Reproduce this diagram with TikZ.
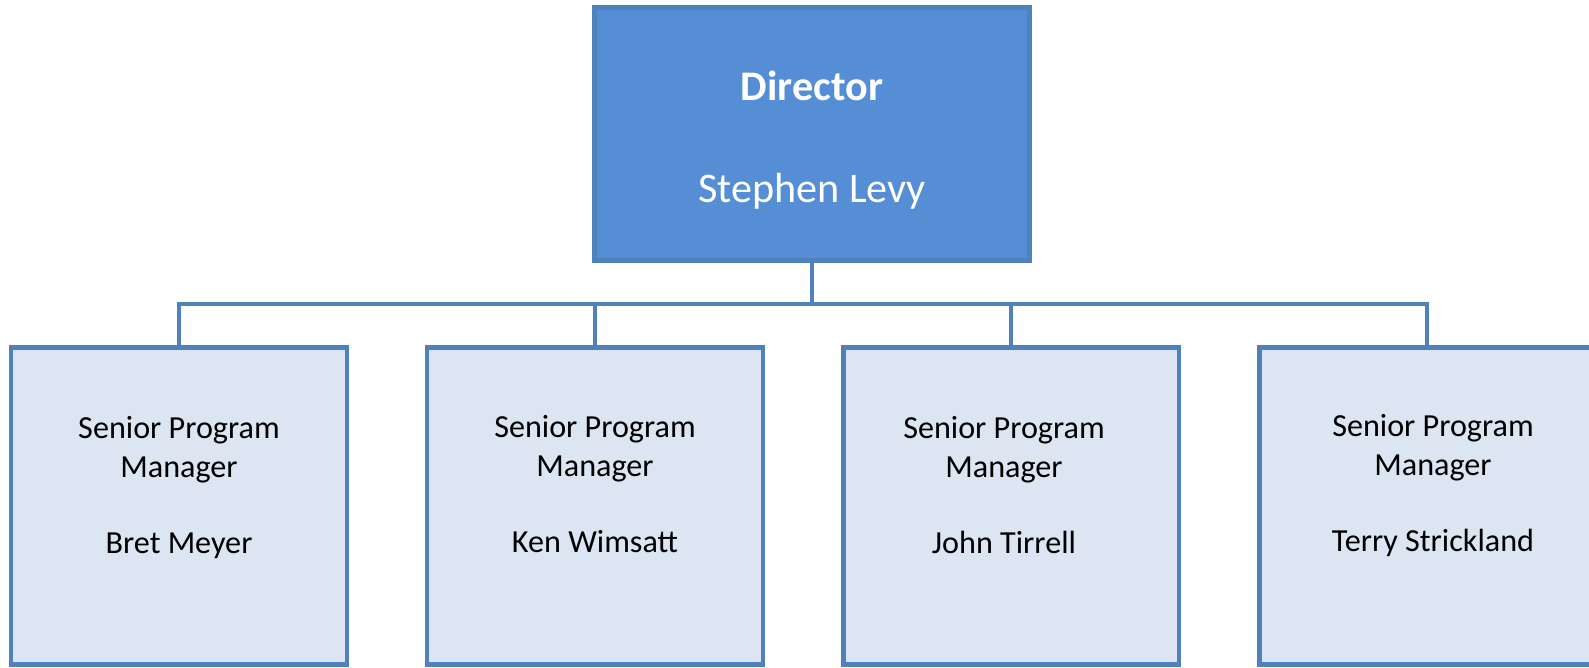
\documentclass[tikz,border=0pt]{standalone}
\usepackage{fontspec}
\setmainfont{Carlito}
\usetikzlibrary{positioning}
\definecolor{dirfill}{RGB}{85,142,213}
\definecolor{boxline}{RGB}{79,129,189}
\definecolor{spmfill}{RGB}{220,230,242}

\begin{document}
\begin{tikzpicture}[x=0.02cm,y=-0.02cm,
    dirbox/.style={draw=boxline,fill=dirfill,line width=2.8pt,outer sep=0pt,
        minimum width=8.7cm,minimum height=5.06cm},
    spmbox/.style={draw=boxline,fill=spmfill,line width=2.8pt,outer sep=0pt,
        minimum width=6.72cm,minimum height=6.34cm},
    dirtext/.style={text=white,align=center,inner sep=0pt,anchor=north,
        font=\fontsize{24}{28.8}\selectfont},
    spmtext/.style={align=center,inner sep=0pt,anchor=north,
        font=\fontsize{18.3}{22.2}\selectfont},
    conn/.style={draw=boxline,line width=2.3pt}]
    \useasboundingbox (0,0) rectangle (1589,667);
    \clip (0,0) rectangle (1589,667);

    % director
    \node[dirbox] (dir) at (812,134) {};
    \node[dirtext] (dirname) at (812,71) {\textbf{Director}\\[29pt]Stephen Levy};

    % senior program managers
    \node[spmbox] (b1) at (179,506) {};
    \node[spmbox] (b2) at (595,506) {};
    \node[spmbox] (b3) at (1011,506) {};
    \node[spmbox] (b4) at (1427,506) {};

    \node[spmtext] (m1) at (179,416) {Senior Program\\Manager\\[21pt]Bret Meyer};
    \node[spmtext] (m2) at (595,415) {Senior Program\\Manager\\[21pt]Ken Wimsatt};
    \node[spmtext] (m3) at (1004,416) {Senior Program\\Manager\\[21pt]John Tirrell};
    \node[spmtext] (m4) at (1433,414) {Senior Program\\Manager\\[21pt]Terry Strickland};

    % connectors
    \coordinate (bus) at (812,304);
    \foreach \b in {b1,b2,b3,b4}
        \draw[conn] (dir.south) -- (bus) -| (\b.north);
\end{tikzpicture}
\end{document}
